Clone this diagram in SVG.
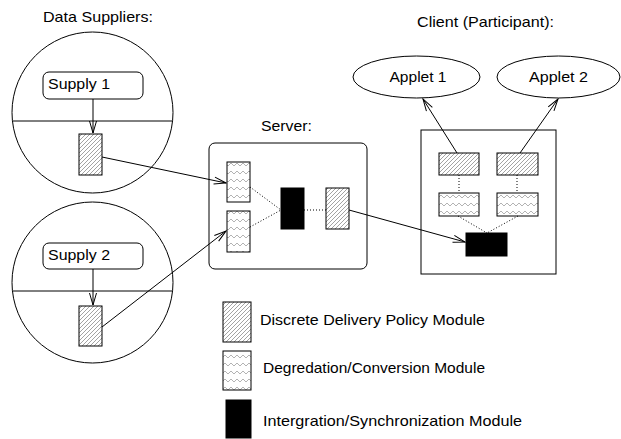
<svg xmlns="http://www.w3.org/2000/svg" width="621" height="439" viewBox="0 0 621 439">
<defs>
<pattern id="hatch" patternUnits="userSpaceOnUse" width="4" height="4">
<rect width="4" height="4" fill="#fff"/>
<path d="M-1,1 l2,-2 M0,4 l4,-4 M3,5 l2,-2" stroke="#999" stroke-width="0.9"/>
</pattern>
<pattern id="wave" patternUnits="userSpaceOnUse" width="6" height="8" y="1">
<rect width="6" height="8" fill="#fff"/>
<path d="M0,5 L3,2 L6,5" stroke="#a0a0a0" stroke-width="0.8" fill="none"/>
</pattern>
<marker id="arr" markerUnits="userSpaceOnUse" markerWidth="14" markerHeight="10" refX="13" refY="4.5" orient="auto">
<path d="M1,1 L13,4.5 L1,8" fill="none" stroke="#000" stroke-width="1"/>
</marker>
</defs>
<style>
text{font-family:"Liberation Sans",Arial,sans-serif;font-size:15px;fill:#000}
.ln{stroke:#000;stroke-width:1;fill:none}
.dot{stroke:#000;stroke-width:1;stroke-dasharray:1,2;fill:none}
.h{fill:url(#hatch);stroke:#000;stroke-width:1}
.w{fill:url(#wave);stroke:#000;stroke-width:1}
.b{fill:#000;stroke:#000;stroke-width:1}
</style>
<rect width="621" height="439" fill="#fff"/>

<text x="43" y="22" textLength="110" lengthAdjust="spacingAndGlyphs">Data Suppliers:</text>
<text x="261" y="131" textLength="51" lengthAdjust="spacingAndGlyphs">Server:</text>
<text x="417" y="27" textLength="137" lengthAdjust="spacingAndGlyphs">Client (Participant):</text>

<g id="supplier1">
<circle cx="92.5" cy="112.5" r="80.5" class="ln"/>
<line x1="12.5" y1="121" x2="172.5" y2="121" class="ln"/>
<rect x="43" y="72" width="100" height="27" rx="6" class="ln"/>
<text x="48" y="89" textLength="62" lengthAdjust="spacingAndGlyphs">Supply 1</text>
<rect x="79" y="134" width="23" height="41" class="h"/>
</g>

<g id="supplier2">
<circle cx="92.5" cy="282.5" r="80.5" class="ln"/>
<line x1="12.5" y1="291" x2="172.5" y2="291" class="ln"/>
<rect x="43" y="243" width="100" height="26" rx="6" class="ln"/>
<text x="48" y="260" textLength="62" lengthAdjust="spacingAndGlyphs">Supply 2</text>
<rect x="79" y="306" width="23" height="40" class="h"/>
</g>

<g id="server">
<rect x="209" y="143" width="158" height="126" rx="6" class="ln"/>
<rect x="227" y="162" width="23" height="40" class="w"/>
<rect x="227" y="211" width="23" height="41" class="w"/>
<rect x="281" y="188" width="23" height="41" class="b"/>
<rect x="326" y="188" width="23" height="41" class="h"/>
</g>

<g id="client">
<rect x="421" y="130" width="135" height="144" class="ln"/>
<rect x="439" y="153" width="40" height="22" class="h"/>
<rect x="497" y="153" width="41" height="22" class="h"/>
<rect x="439" y="193" width="40" height="23" class="w"/>
<rect x="497" y="193" width="41" height="23" class="w"/>
<rect x="466" y="233" width="41" height="23" class="b"/>
</g>

<g id="applet1">
<ellipse cx="416.5" cy="77" rx="63.5" ry="21" class="ln"/>
<text x="418" y="82" text-anchor="middle" textLength="57" lengthAdjust="spacingAndGlyphs">Applet 1</text>
</g>
<g id="applet2">
<ellipse cx="558.5" cy="77" rx="61.5" ry="21" class="ln"/>
<text x="558.5" y="82" text-anchor="middle" textLength="59" lengthAdjust="spacingAndGlyphs">Applet 2</text>
</g>

<g id="legend">
<rect x="223" y="302" width="28" height="40" class="h"/>
<text x="260" y="325" textLength="225" lengthAdjust="spacingAndGlyphs">Discrete Delivery Policy Module</text>
<rect x="223" y="351" width="28" height="39" class="w"/>
<text x="263" y="373" textLength="222" lengthAdjust="spacingAndGlyphs">Degredation/Conversion Module</text>
<rect x="226" y="400" width="25" height="38" class="b"/>
<text x="263" y="426" textLength="259" lengthAdjust="spacingAndGlyphs">Intergration/Synchronization Module</text>
</g>

<g id="connectors">
<line x1="93" y1="99" x2="93" y2="133" class="ln" marker-end="url(#arr)"/>
<line x1="93" y1="269" x2="93" y2="305" class="ln" marker-end="url(#arr)"/>
<line x1="102" y1="157" x2="226" y2="183" class="ln" marker-end="url(#arr)"/>
<line x1="102" y1="327" x2="226" y2="231" class="ln" marker-end="url(#arr)"/>
<line x1="349" y1="210" x2="465" y2="242" class="ln" marker-end="url(#arr)"/>
<line x1="457" y1="153" x2="423" y2="99" class="ln" marker-end="url(#arr)"/>
<line x1="520" y1="153" x2="558" y2="99" class="ln" marker-end="url(#arr)"/>
<line x1="250" y1="187" x2="281" y2="210" class="dot"/>
<line x1="250" y1="227" x2="281" y2="210" class="dot"/>
<line x1="304" y1="210" x2="326" y2="210" class="dot"/>
<line x1="459" y1="175" x2="459" y2="193" class="dot"/>
<line x1="517" y1="175" x2="517" y2="193" class="dot"/>
<line x1="458" y1="216" x2="487" y2="233" class="dot"/>
<line x1="518" y1="216" x2="487" y2="233" class="dot"/>
</g>
</svg>
